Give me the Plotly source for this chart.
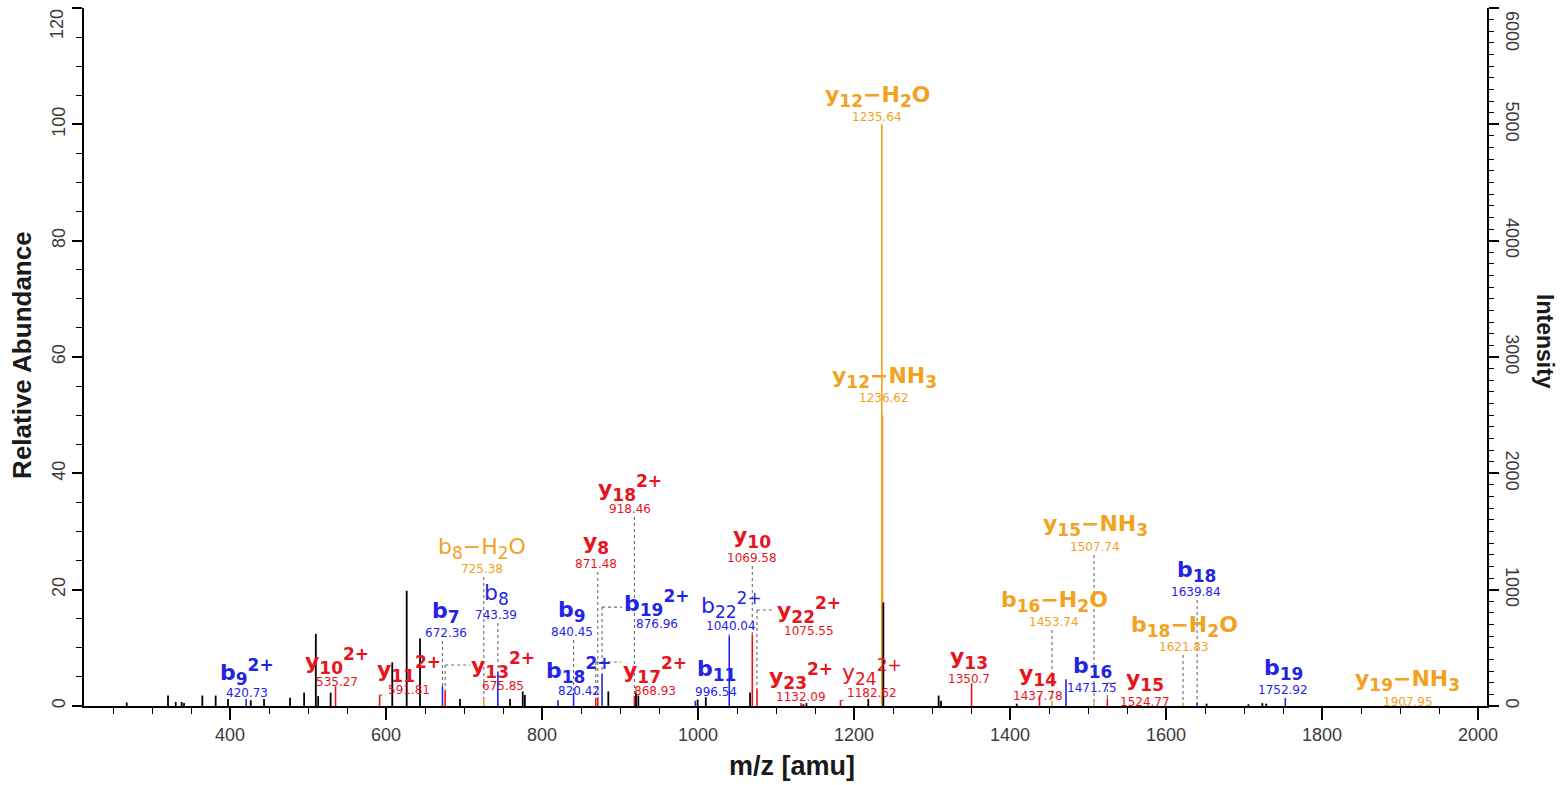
import plotly.graph_objects as go

# ---------------------------------------------------------------- data ---
# Unassigned fragment peaks: m/z and relative abundance (%)
other_mz = [267.6, 320.5, 330.4, 338.0, 341.0, 364.5, 381.6, 397.4, 426.6, 443.6,
            477.0, 495.0, 510.0, 513.0, 529.0, 608.0, 626.5, 643.6, 694.9, 759.0,
            775.3, 778.0, 885.0, 920.5, 923.5, 999.5, 1010.0, 1066.7, 1135.0, 1139.0,
            1218.3, 1237.6, 1308.5, 1311.5, 1408.6, 1652.0, 1705.6, 1723.5, 1728.5]
other_rel = [0.6, 1.8, 0.7, 0.7, 0.5, 1.8, 1.8, 1.2, 1.0, 1.2,
             1.4, 2.3, 12.4, 1.7, 2.3, 7.5, 19.8, 11.6, 1.2, 1.2,
             2.5, 1.9, 2.5, 2.3, 1.8, 1.1, 1.5, 2.3, 0.3, 0.5,
             1.2, 17.8, 1.8, 0.9, 0.4, 0.4, 0.3, 0.5, 0.4]

# Assigned fragment ions
ion_series = ["b", "y", "y", "y", "b", "b", "b", "b", "b", "y",
              "b", "y", "y", "b", "b", "y", "y", "y", "y", "y",
              "y", "y", "y", "b", "b", "y", "y", "b", "b", "b", "y"]
ion_number = [9, 10, 11, 13, 7, 8, 8, 9, 18, 8,
              19, 18, 17, 11, 22, 10, 22, 23, 24, 12,
              12, 13, 14, 16, 16, 15, 15, 18, 18, 19, 19]
ion_charge = [2, 2, 2, 2, 1, 1, 1, 1, 2, 1,
              2, 2, 2, 1, 2, 1, 2, 2, 2, 1,
              1, 1, 1, 1, 1, 1, 1, 1, 1, 1, 1]
ion_loss = ["", "", "", "", "", "H2O", "", "", "", "",
            "", "", "", "", "", "", "", "", "", "H2O",
            "NH3", "", "", "H2O", "", "NH3", "", "H2O", "", "", "NH3"]
ion_mz = [420.73, 535.27, 591.81, 675.85, 672.36, 725.38, 743.39, 840.45, 820.42, 871.48,
          876.96, 918.46, 868.93, 996.54, 1040.04, 1069.58, 1075.55, 1132.09, 1182.62, 1235.64,
          1236.62, 1350.70, 1437.78, 1453.74, 1471.75, 1507.74, 1524.77, 1621.83, 1639.84,
          1752.92, 1907.95]
ion_rel = [1.2, 3.4, 1.9, 2.6, 3.4, 1.2, 5.9, 2.3, 1.0, 1.5,
           5.5, 1.7, 1.4, 0.9, 12.0, 12.3, 3.0, 0.5, 1.0, 100.0,
           50.0, 3.9, 1.8, 0.9, 4.6, 0.6, 1.3, 0.6, 0.6, 1.4, 0.3]

# axis tick values
rel_ticks = [0, 20, 40, 60, 80, 100, 120]
int_ticks = [0, 1000, 2000, 3000, 4000, 5000, 6000]

# ------------------------------------------------------- label layout ---
# label anchor (m/z, relative abundance) of each ion name
label_x = [421.8, 537.2, 629.5, 750.0, 676.9, 723.1, 741.0, 838.5, 847.4, 869.2,
           947.4, 912.8, 944.9, 1023.1, 1042.3, 1069.2, 1142.3, 1132.1, 1223.1, 1229.5,
           1238.5, 1347.4, 1435.9, 1456.4, 1505.1, 1509.0, 1573.1, 1623.1, 1638.5,
           1750.0, 1910.2]
label_y = [5.85, 7.74, 6.36, 7.05, 16.16, 27.16, 19.25, 16.33, 6.19, 28.02,
           17.71, 37.48, 6.19, 6.02, 17.36, 29.05, 16.50, 5.16, 5.85, 104.87,
           56.56, 8.25, 5.33, 18.05, 6.70, 30.95, 4.30, 13.75, 23.21, 6.36, 4.30]
label_bold = [True] * len(ion_mz)
for k in (5, 6, 14, 18):
    label_bold[k] = False
# leader lines: "v" = straight down from the label, ("h", level, edge) = elbow
leaders = {2: ("h", None, 600.0), 3: ("h", 7.05, 707.7), 4: "v", 5: "v", 6: "v",
           7: "v", 9: "v", 10: ("h", 17.0, 902.6), 11: "v", 12: ("h", 7.56, 901.3),
           14: "v", 15: "v", 16: ("h", 16.5, 1097.4), 18: ("h", None, 1191.0),
           23: "v", 25: "v", 26: ("h", 3.95, 1538.5), 27: "v", 28: "v"}

X_RANGE = [212.8, 2011.5]
Y_RANGE = [0, 120]

COL = {"b": "#2323e8", "y": "#e8141c", "loss": "#f2a21e"}
NAME_FONT = "DejaVu Sans"
AXIS_FONT = "Liberation Sans"
NAME_SIZE = 22
SMALL = "<span style='font-size:17px'>{}</span>"


def ion_color(i):
    return COL["loss"] if ion_loss[i] else COL[ion_series[i]]


def ion_html(i):
    s = ion_series[i] + "<sub>" + SMALL.format(ion_number[i]) + "</sub>"
    if ion_charge[i] > 1:
        s += "<sup>" + SMALL.format(f"{ion_charge[i]}+") + "</sup>"
    if ion_loss[i]:
        s += "−" + "".join("<sub>" + SMALL.format(c) + "</sub>" if c.isdigit() else c
                           for c in ion_loss[i])
    return f"<b>{s}</b>" if label_bold[i] else s


def fmt_mz(v):
    return f"{v:.2f}".rstrip("0").rstrip(".")


def stems(xs, ys):
    px, py = [], []
    for x, y in zip(xs, ys):
        px += [x, x, None]
        py += [0, y, None]
    return px, py


fig = go.Figure()

# dashed leader lines
lx, ly = [], []
drop = 5.0  # rel units between name centre and the bottom of the m/z text
for i, spec in leaders.items():
    x0, h = ion_mz[i], ion_rel[i]
    if spec == "v":
        top = label_y[i] - drop
        if top > h:
            lx += [x0, x0, None]
            ly += [top, h, None]
    else:
        _, level, edge = spec
        lev = h if level is None else level
        lx += [x0, edge, None]
        ly += [lev, lev, None]
        if lev > h:
            lx += [x0, x0, None]
            ly += [lev, h, None]
fig.add_trace(go.Scatter(x=lx, y=ly, mode="lines", hoverinfo="skip",
                         line=dict(color="#6a6a6a", width=1.1, dash="3px,3px")))

# assigned peaks, grouped by colour
for key in ("b", "y", "loss"):
    idx = [i for i in range(len(ion_mz))
           if (key == "loss" and ion_loss[i]) or (not ion_loss[i] and ion_series[i] == key)]
    sx, sy = stems([ion_mz[i] for i in idx], [ion_rel[i] for i in idx])
    fig.add_trace(go.Scatter(x=sx, y=sy, mode="lines", hoverinfo="skip",
                             line=dict(color=COL[key], width=1.6)))

# unassigned peaks
sx, sy = stems(other_mz, other_rel)
fig.add_trace(go.Scatter(x=sx, y=sy, mode="lines", hoverinfo="skip",
                         line=dict(color="black", width=1.8)))

# secondary intensity scale
fig.add_trace(go.Scatter(x=[X_RANGE[0]], y=[0], yaxis="y2", mode="markers",
                         marker=dict(opacity=0), hoverinfo="skip"))

ann = []
for i in range(len(ion_mz)):
    c = ion_color(i)
    ann.append(dict(x=label_x[i], y=label_y[i], xref="x", yref="y", text=ion_html(i),
                    showarrow=False, xanchor="center", yanchor="middle",
                    font=dict(family=NAME_FONT, size=NAME_SIZE, color=c)))
    ann.append(dict(x=label_x[i], y=label_y[i], xref="x", yref="y", text=fmt_mz(ion_mz[i]),
                    showarrow=False, xanchor="center", yanchor="middle", yshift=-21,
                    font=dict(family=NAME_FONT, size=12, color=c)))

tick_font = dict(family=AXIS_FONT, size=18, color="#3a3a3a")

# top tick labels, kept inside the figure like the other end labels
ann.append(dict(x=-0.0192, y=0.977, xref="paper", yref="paper", showarrow=False,
                text=str(rel_ticks[-1]), textangle=-90, font=tick_font,
                xanchor="center", yanchor="middle"))
ann.append(dict(x=1.0178, y=0.967, xref="paper", yref="paper", showarrow=False,
                text=str(int_ticks[-1]), textangle=90, font=tick_font,
                xanchor="center", yanchor="middle"))

ann.append(dict(x=0.5046, y=-0.086, xref="paper", yref="paper", showarrow=False,
                text="<b>m/z [amu]</b>",
                font=dict(family=AXIS_FONT, size=27, color="#1a1a1a"),
                xanchor="center", yanchor="middle"))
ann.append(dict(x=-0.0442, y=0.503, xref="paper", yref="paper", showarrow=False,
                text="<b>Relative Abundance</b>", textangle=-90,
                font=dict(family=AXIS_FONT, size=26, color="#1a1a1a"),
                xanchor="center", yanchor="middle"))
ann.append(dict(x=1.0413, y=0.5215, xref="paper", yref="paper", showarrow=False,
                text="<b>Intensity</b>", textangle=90,
                font=dict(family=AXIS_FONT, size=23, color="#1a1a1a"),
                xanchor="center", yanchor="middle"))

fig.update_layout(
    width=1565, height=785,
    margin=dict(l=84, r=78, t=8, b=79),
    plot_bgcolor="white", paper_bgcolor="white",
    showlegend=False,
    annotations=ann,
    xaxis=dict(range=X_RANGE, tickmode="linear", tick0=0, dtick=200,
               ticks="outside", ticklen=12, tickwidth=1.5, tickcolor="black",
               minor=dict(tickmode="linear", tick0=0, dtick=50, ticks="outside",
                          ticklen=6, tickwidth=1.3, tickcolor="black", showgrid=False),
               showline=True, linecolor="black", linewidth=1.5,
               showgrid=False, zeroline=False, tickfont=tick_font),
    yaxis=dict(range=Y_RANGE, tickmode="array", tickvals=rel_ticks,
               ticktext=[str(v) for v in rel_ticks[:-1]] + [""],
               ticks="outside", ticklen=10, tickwidth=1.5, tickcolor="black",
               minor=dict(tickmode="linear", tick0=0, dtick=5, ticks="outside",
                          ticklen=6, tickwidth=1.3, tickcolor="black", showgrid=False),
               showline=True, linecolor="black", linewidth=1.5, tickangle=-90,
               showgrid=False, zeroline=False, tickfont=tick_font),
    yaxis2=dict(range=[int_ticks[0], int_ticks[-1]], overlaying="y", side="right", anchor="x",
                tickmode="array", tickvals=int_ticks,
                ticktext=[str(v) for v in int_ticks[:-1]] + [""],
                ticks="outside", ticklen=10, tickwidth=1.5, tickcolor="black",
                minor=dict(tickmode="linear", tick0=0, dtick=100, ticks="outside",
                           ticklen=5, tickwidth=1.2, tickcolor="black", showgrid=False),
                showline=True, linecolor="black", linewidth=1.5, tickangle=90,
                showgrid=False, zeroline=False, tickfont=tick_font),
)

fig.write_html("out.html")
